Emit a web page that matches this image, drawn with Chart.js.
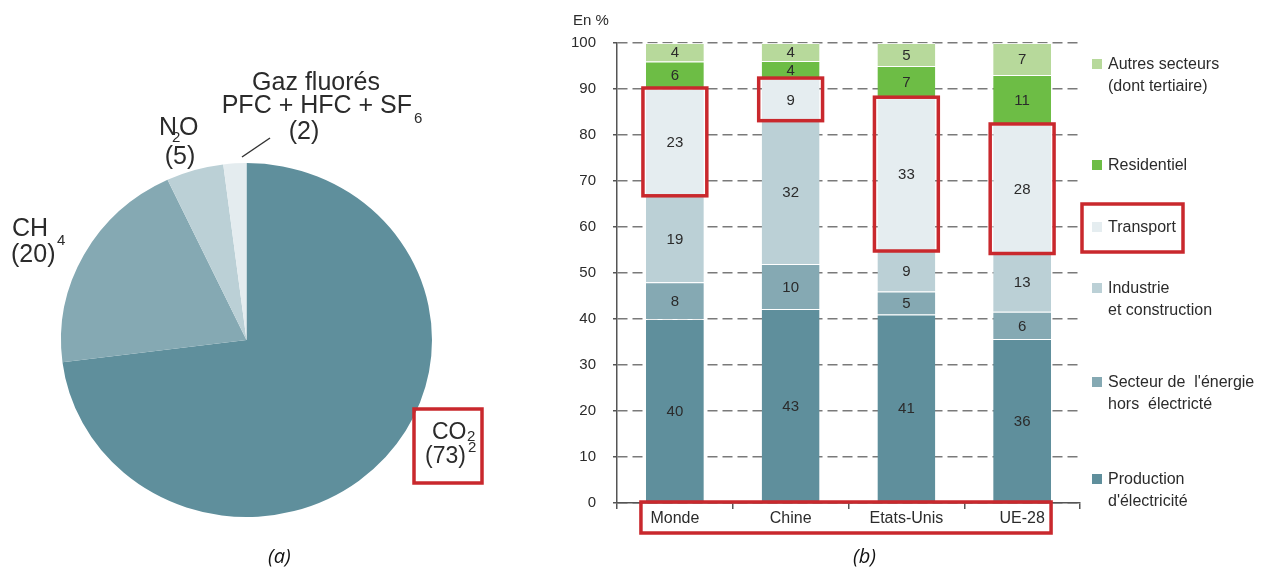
<!DOCTYPE html>
<html>
<head>
<meta charset="utf-8">
<script src="https://cdn.jsdelivr.net/npm/chart.js@4.4.1/dist/chart.umd.min.js"></script>
<style>
html, body { margin: 0; padding: 0; background: #fff; }
#wrap { position: relative; width: 1264px; height: 572px; overflow: hidden; }
.box { position: absolute; top: 0; height: 572px; }
.cap { position: absolute; top: 542px; font: italic 20px 'Open Sans', 'DejaVu Sans', sans-serif; color: #111; }
</style>
</head>
<body>
<div id="wrap">
  <div class="box" style="left:0;width:490px"><canvas id="pieChart"></canvas></div>
  <div class="box" style="left:490px;width:774px"><canvas id="barChart"></canvas></div>
  <div class="cap" style="left:268px">(a)</div>
  <div class="cap" style="left:853px">(b)</div>
</div>
<script>
// (a) greenhouse gases
const gasNames = ['CO2', 'CH4', 'N2O', 'Gaz fluorés'];
const gasShares = [73, 20, 5, 2];
const gasColors = ['#5f8f9c', '#85a9b3', '#bbd0d6', '#e4ecef'];

// (b) sectors per region, stacked bottom to top
const regions = ['Monde', 'Chine', 'Etats-Unis', 'UE-28'];
const production = [40, 43, 41, 36];
const energie = [8, 10, 5, 6];
const industrie = [19, 32, 9, 13];
const transport = [23, 9, 33, 28];
const residentiel = [6, 4, 7, 11];
const autres = [4, 4, 5, 7];
const sectorNames = [
    ['Production', "d'électricité"],
    ["Secteur de  l'énergie", 'hors  électricté'],
    ['Industrie', 'et construction'],
    ['Transport'],
    ['Residentiel'],
    ['Autres secteurs', '(dont tertiaire)']
];
const sectorColors = ['#5f8f9c', '#85a9b3', '#bbd0d6', '#e5edf0', '#6dbd45', '#b7d99b'];
const yTicks = [0, 10, 20, 30, 40, 50, 60, 70, 80, 90, 100];

const RED = '#c9282d';
const sans = "'Liberation Sans', Arial, sans-serif";

// ---------- pie ----------
const stretchPie = {
    id: 'stretchPie',
    beforeDatasetsDraw(chart) {
        const arc = chart.getDatasetMeta(0).data[0];
        const ctx = chart.ctx;
        ctx.save();
        ctx.translate(arc.x, arc.y);
        ctx.scale(1.048, 1);
        ctx.translate(-arc.x, -arc.y);
    },
    afterDatasetsDraw(chart) {
        chart.ctx.restore();
    }
};

const pieText = {
    id: 'pieText',
    afterDraw(chart) {
        const ctx = chart.ctx;
        const big = '25px ' + sans, mid = '23px ' + sans, small = '15px ' + sans;
        const put = (t, x, y, font, align) => {
            ctx.font = font;
            ctx.textAlign = align || 'left';
            ctx.fillText(t, x, y);
        };
        ctx.save();
        ctx.fillStyle = '#2b2b2b';
        ctx.textBaseline = 'alphabetic';
        put('Gaz fluorés', 316, 90, big, 'center');
        put('PFC + HFC + SF', 412, 113, big, 'right');
        put('6', 414, 123, small);
        put('(2)', 304, 139, big, 'center');
        put('N', 159, 135, big);
        put('2', 172, 142, small);
        put('O', 179, 135, big);
        put('(5)', 180, 164, big, 'center');
        put('CH', 12, 236, big);
        put('4', 57, 245, small);
        put('(20)', 11, 262, big);
        put('CO', 432, 439, mid);
        put('2', 467, 441, small);
        put('(73)', 425, 463, mid);
        put('2', 468, 452, small);

        // leader line to the small slice
        ctx.strokeStyle = '#333';
        ctx.lineWidth = 1.5;
        ctx.beginPath();
        ctx.moveTo(242, 157);
        ctx.lineTo(270, 138);
        ctx.stroke();

        ctx.strokeStyle = RED;
        ctx.lineWidth = 3.5;
        ctx.strokeRect(414, 409, 68, 74);
        ctx.restore();
    }
};

new Chart(document.getElementById('pieChart'), {
    type: 'pie',
    data: {
        labels: gasNames,
        datasets: [{
            data: gasShares,
            backgroundColor: gasColors,
            borderWidth: 0,
            clip: false
        }]
    },
    options: {
        responsive: true,
        maintainAspectRatio: false,
        animation: false,
        layout: { padding: { left: 69.5, right: 66.5, top: 163, bottom: 55 } },
        plugins: { legend: { display: false }, tooltip: { enabled: false } }
    },
    plugins: [stretchPie, pieText]
});

// ---------- stacked bars ----------
const series = [production, energie, industrie, transport, residentiel, autres];
const totals = regions.map((r, j) => series.reduce((s, arr) => s + arr[j], 0));

const barDecor = {
    id: 'barDecor',
    afterDraw(chart) {
        const ctx = chart.ctx;
        const area = chart.chartArea;
        ctx.save();

        // values in the segments
        ctx.font = '15px ' + sans;
        ctx.fillStyle = '#2b2b2b';
        ctx.textAlign = 'center';
        ctx.textBaseline = 'middle';
        series.forEach((arr, i) => {
            chart.getDatasetMeta(i).data.forEach((bar, j) => {
                ctx.fillText(String(arr[j]), bar.x, (bar.y + bar.base) / 2 + 1);
            });
        });

        // red frames on transport
        ctx.strokeStyle = RED;
        ctx.lineWidth = 3.5;
        const tBars = chart.getDatasetMeta(3).data;
        tBars.forEach(bar => {
            const half = bar.width / 2 + 3;
            ctx.strokeRect(bar.x - half, bar.y - 1, half * 2, bar.base - bar.y + 2);
        });
        const first = tBars[0], last = tBars[tBars.length - 1];
        ctx.strokeRect(first.x - first.width / 2 - 5, area.bottom - 1,
            last.x + last.width / 2 - (first.x - first.width / 2 - 5), 31);

        // axis unit
        ctx.font = '15px ' + sans;
        ctx.fillStyle = '#2b2b2b';
        ctx.textAlign = 'left';
        ctx.fillText('En %', 83, 21);

        // legend, top item first
        const legendY = [64, 165, 227, 288, 382, 479];
        const lx = area.right + 12;
        ctx.font = '16px ' + sans;
        for (let k = 0; k < series.length; k++) {
            const i = series.length - 1 - k;
            const y = legendY[k];
            ctx.fillStyle = sectorColors[i];
            ctx.fillRect(lx, y - 5, 10, 10);
            ctx.fillStyle = '#2b2b2b';
            sectorNames[i].forEach((line, n) => ctx.fillText(line, lx + 16, y + 1 + n * 22));
        }
        ctx.strokeStyle = RED;
        ctx.lineWidth = 3.5;
        ctx.strokeRect(lx - 10, legendY[2] - 23, 101, 48);
        ctx.restore();
    }
};

new Chart(document.getElementById('barChart'), {
    type: 'bar',
    data: {
        labels: regions,
        datasets: series.map((arr, i) => ({
            label: sectorNames[i].join(' '),
            data: arr.map((v, j) => v / totals[j] * 100),
            backgroundColor: sectorColors[i],
            borderColor: 'rgba(255,255,255,0.75)',
            borderWidth: { top: 1, bottom: 0, left: 0, right: 0 },
            borderSkipped: false,
            barPercentage: 0.5,
            categoryPercentage: 1.0
        }))
    },
    options: {
        responsive: true,
        maintainAspectRatio: false,
        animation: false,
        layout: { padding: { top: 43, right: 184, left: 0, bottom: 0 } },
        plugins: { legend: { display: false }, tooltip: { enabled: false } },
        scales: {
            x: {
                stacked: true,
                grid: { display: true, drawOnChartArea: false, tickLength: 6, color: '#555', lineWidth: 1.5, offset: true },
                border: { display: true, color: '#555', width: 1.5 },
                ticks: { font: { family: sans, size: 16 }, color: '#2b2b2b', padding: 0 },
                afterFit(scale) { scale.height = 69; }
            },
            y: {
                stacked: true,
                min: 0,
                max: 100,
                afterBuildTicks(scale) { scale.ticks = yTicks.map(v => ({ value: v })); },
                ticks: { font: { family: sans, size: 15 }, color: '#2b2b2b', padding: 17 },
                grid: { color: '#7a7a7a', lineWidth: 1.5, tickLength: 4, tickColor: '#555' },
                border: { display: true, color: '#555', width: 1.5, dash: [10, 5] },
                afterFit(scale) { scale.width = 127; }
            }
        }
    },
    plugins: [barDecor]
});
</script>
</body>
</html>
